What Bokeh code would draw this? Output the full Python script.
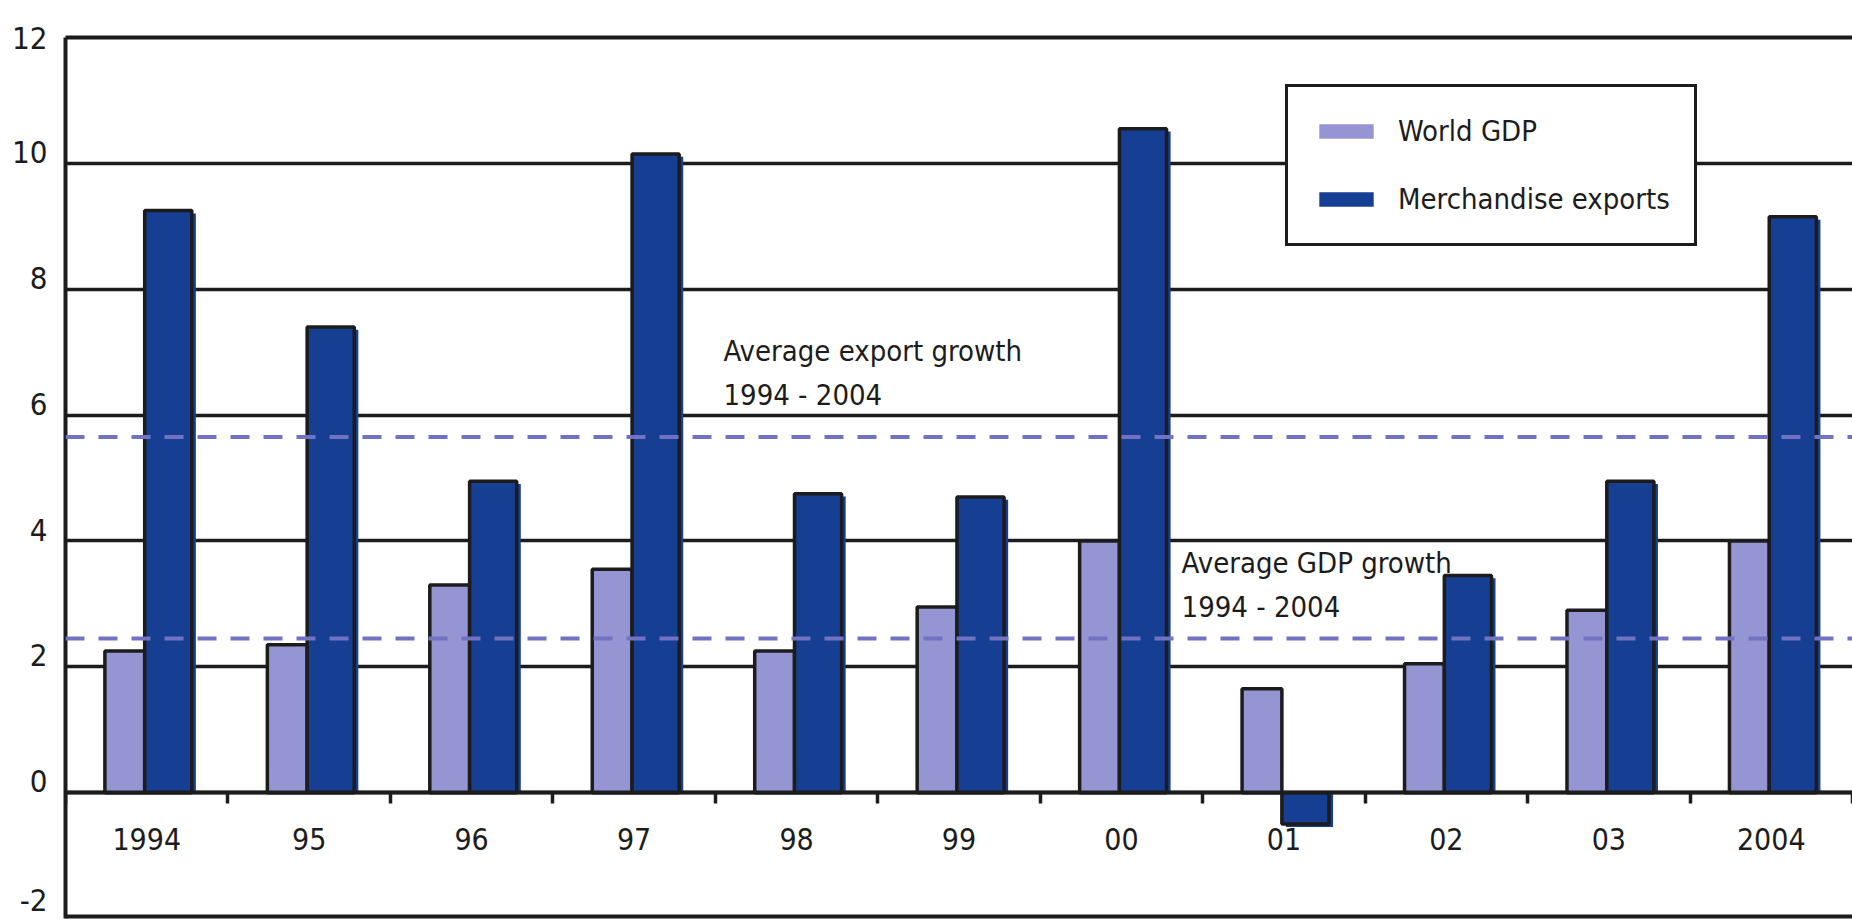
from bokeh.plotting import figure
from bokeh.models import (Range1d, FixedTicker, Span, Label, Legend, LegendItem,
                          ColumnDataSource, LinearAxis)
from bokeh.transform import dodge
from bokeh.embed import file_html
from bokeh.resources import INLINE

# ---- data ----
years = ["1994", "95", "96", "97", "98", "99", "00", "01", "02", "03", "2004"]
world_gdp = [2.25, 2.35, 3.3, 3.55, 2.25, 2.95, 4.0, 1.65, 2.05, 2.9, 4.0]
merch_exports = [9.25, 7.4, 4.95, 10.15, 4.75, 4.7, 10.55, -0.5, 3.45, 4.95, 9.15]
avg_export_growth = 5.65
avg_gdp_growth = 2.45
y_ticks = [-2, 0, 2, 4, 6, 8, 10, 12]
y_labels = ["-2", "0", "2", "4", "6", "8", "10", "12"]
series_names = ["World GDP", "Merchandise exports"]
annotation_export = "Average export growth\n1994 - 2004"
annotation_gdp = "Average GDP growth\n1994 - 2004"

# ---- style ----
FONT = "DejaVu Sans Condensed, Roboto, sans-serif"
INK = "#1c1c1c"
LIGHT = "#9595d3"
DARK = "#163e92"
DASH = "#7272c2"
Y0, Y1 = -2, 12
LABEL_LIFT = 0.18      # y labels sit on top of their gridlines
BOTTOM_LIFT = 0.3      # keep the lowest label fully inside the page

n = len(years)
centers = [i + 0.5 for i in range(n)]
bounds = [float(i) for i in range(n + 1)]

src = ColumnDataSource(dict(
    x=centers,
    gdp=world_gdp,
    exp=merch_exports,
    exp_shadow=[v - 0.045 for v in merch_exports],
))

p = figure(width=1852, height=923, x_range=Range1d(0, n), y_range=Range1d(Y0, Y1),
           output_backend="svg", toolbar_location=None,
           min_border_left=65, min_border_right=0, min_border_top=37, min_border_bottom=5)
p.outline_line_color = None
p.background_fill_color = "white"
p.border_fill_color = "white"

# grid
p.xgrid.visible = False
p.ygrid.ticker = FixedTicker(ticks=y_ticks)
p.ygrid.grid_line_color = INK
p.ygrid.grid_line_width = 3.5

# x axis at y = 0
xa = p.xaxis[0]
xa.ticker = FixedTicker(ticks=centers, minor_ticks=bounds)
xa.major_label_overrides = {c: lab for c, lab in zip(centers, years)}
xa.fixed_location = 0
xa.axis_line_color = INK
xa.axis_line_width = 4
xa.major_tick_line_color = None
xa.major_tick_out = 0
xa.major_tick_in = 0
xa.minor_tick_line_color = INK
xa.minor_tick_line_width = 3.5
xa.minor_tick_out = 11
xa.minor_tick_in = 0
xa.major_label_standoff = 24
xa.major_label_text_font = FONT
xa.major_label_text_font_size = "30px"
xa.major_label_text_color = INK

# y axis: labels lifted so that they sit on their gridlines
ya = p.yaxis[0]
lifted = []
for t in y_ticks:
    lift = BOTTOM_LIFT if t == Y0 else LABEL_LIFT
    lifted.append(t + lift if t + lift <= Y1 else t)
ya.ticker = FixedTicker(ticks=lifted)
ya.major_label_overrides = {lt: lab for lt, lab in zip(lifted, y_labels)}
ya.axis_line_color = INK
ya.axis_line_width = 4
ya.major_tick_line_color = None
ya.minor_tick_line_color = None
ya.major_tick_out = 0
ya.major_tick_in = 0
ya.major_label_standoff = 18
ya.major_label_text_font = FONT
ya.major_label_text_font_size = "31px"
ya.major_label_text_color = INK

# top border
top_axis = LinearAxis(ticker=FixedTicker(ticks=[]), axis_line_color=INK, axis_line_width=4,
                      major_tick_line_color=None, minor_tick_line_color=None,
                      major_label_text_font_size="0px")
p.add_layout(top_axis, "above")

# bars: fills (no outline) then outlines
shadow_exp = p.vbar(x=dodge("x", 0.1575), top="exp_shadow", bottom=0, width=0.29, source=src,
                    fill_color=DARK, line_color=None)
fill_gdp = p.vbar(x=dodge("x", -0.135), top="gdp", bottom=0, width=0.245, source=src,
                  fill_color=LIGHT, line_color=None)
p.vbar(x=dodge("x", -0.135), top="gdp", bottom=0, width=0.245, source=src,
       fill_color=None, line_color=INK, line_width=3.5)
p.vbar(x=dodge("x", 0.1325), top="exp", bottom=0, width=0.29, source=src,
       fill_color=DARK, line_color=INK, line_width=3.5)

# average lines
for v in (avg_export_growth, avg_gdp_growth):
    p.add_layout(Span(location=v, dimension="width", line_color=DASH,
                      line_width=4, line_dash="19 14"))

# bottom border
p.add_layout(Span(location=Y0, dimension="width", line_color=INK, line_width=8))

# annotations
p.add_layout(Label(x=4.05, y=7.29, text=annotation_export, text_font=FONT,
                   text_font_size="29px", text_color=INK, text_baseline="top",
                   text_line_height=1.3))
p.add_layout(Label(x=6.87, y=3.92, text=annotation_gdp, text_font=FONT,
                   text_font_size="29px", text_color=INK, text_baseline="top",
                   text_line_height=1.3))

# legend
legend = Legend(items=[LegendItem(label=series_names[0], renderers=[fill_gdp]),
                       LegendItem(label=series_names[1], renderers=[shadow_exp])],
                location=(1220, 672), orientation="vertical",
                padding=24, margin=0, spacing=28,
                glyph_width=68, glyph_height=18, label_height=40, label_standoff=18,
                label_text_font=FONT, label_text_font_size="29px", label_text_color=INK,
                border_line_color=INK, border_line_width=3.5, border_line_alpha=1.0,
                background_fill_color="white", background_fill_alpha=1.0)
p.add_layout(legend)

open("out.html", "w").write(file_html(p, INLINE))
